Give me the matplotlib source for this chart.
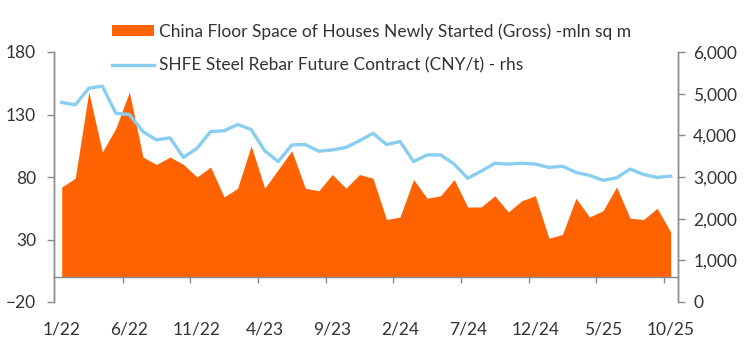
import matplotlib
matplotlib.use('Agg')
import matplotlib.pyplot as plt
from matplotlib.ticker import FuncFormatter, FixedLocator
import numpy as np

# monthly, Jan 2022 .. Oct 2025
houses = [72, 79, 148, 100, 119, 148, 96, 90, 96, 90, 80, 88, 64, 71, 105, 71,
          86, 101, 71, 69, 82, 71, 82, 79, 46, 48, 78, 63, 65, 78, 56, 56, 65,
          52, 61, 65, 31, 34, 63, 48, 53, 72, 47, 46, 55, 36]
rebar = [4790, 4730, 5130, 5180, 4530, 4500, 4090, 3890, 3940, 3470, 3690, 4090,
         4110, 4260, 4140, 3630, 3370, 3770, 3780, 3620, 3650, 3710, 3870, 4050,
         3780, 3850, 3370, 3530, 3530, 3310, 2970, 3140, 3330, 3310, 3330, 3310,
         3230, 3260, 3110, 3040, 2920, 2980, 3190, 3060, 2990, 3020]
tick_labels = ['1/22', '6/22', '11/22', '4/23', '9/23', '2/24', '7/24',
               '12/24', '5/25', '10/25']
houses_label = 'China Floor Space of Houses Newly Started (Gross) -mln sq m'
rebar_label = 'SHFE Steel Rebar Future Contract (CNY/t) - rhs'

orange = '#ff6200'
blue = '#89cdf1'
grey = '#8a8a8a'
text_col = '#333333'

plt.rcParams['font.family'] = 'Lato'
plt.rcParams['font.size'] = 12.5

x = np.arange(len(houses))

fig = plt.figure(figsize=(7.46, 3.43), dpi=100)
ax = fig.add_axes([54 / 746, 1 - 302 / 343, 624 / 746, 250 / 343])
ax2 = ax.twinx()

area = ax.fill_between(x, 0, houses, color=orange, linewidth=0, label=houses_label)
line, = ax2.plot(x, rebar, color=blue, linewidth=2.4, label=rebar_label)

ax.set_xlim(-0.57, 45.54)
ax.set_ylim(-20, 180)
ax.set_yticks([-20, 30, 80, 130, 180])
ax2.set_ylim(0, 6000)
ax2.set_yticks(range(0, 6001, 1000))
ax2.yaxis.set_major_formatter(FuncFormatter(lambda v, p: f'{int(v):,}'))

# x axis sits on zero; labels at every 5th month, tick marks between months
ax.spines['bottom'].set_position(('data', 0))
ax.set_xticks(range(0, len(houses), 5))
ax.set_xticklabels(tick_labels)
ax.xaxis.set_minor_locator(FixedLocator(np.arange(4.5, len(houses), 5)))
ax.tick_params(axis='x', which='major', length=0, pad=32, colors=text_col)
ax.tick_params(axis='x', which='minor', length=4, width=1, color=grey, direction='out')
ax.tick_params(axis='y', length=5, width=1, color=grey, pad=8, labelcolor=text_col)
ax2.tick_params(axis='y', length=5, width=1, color=grey, pad=6, labelcolor=text_col)

for a in (ax, ax2):
    a.spines['top'].set_visible(False)
    for s in ('left', 'right', 'bottom'):
        a.spines[s].set_color(grey)
        a.spines[s].set_linewidth(1)
ax2.spines['bottom'].set_visible(False)

fig.legend(handles=[area, line], loc='upper left',
           bbox_to_anchor=(112 / 746, 1 - 23 / 343), frameon=False,
           borderpad=0, borderaxespad=0, handlelength=2.4, handleheight=0.55,
           handletextpad=0.3, labelspacing=1.05, labelcolor=text_col)

fig.savefig('out.png', dpi=100)
